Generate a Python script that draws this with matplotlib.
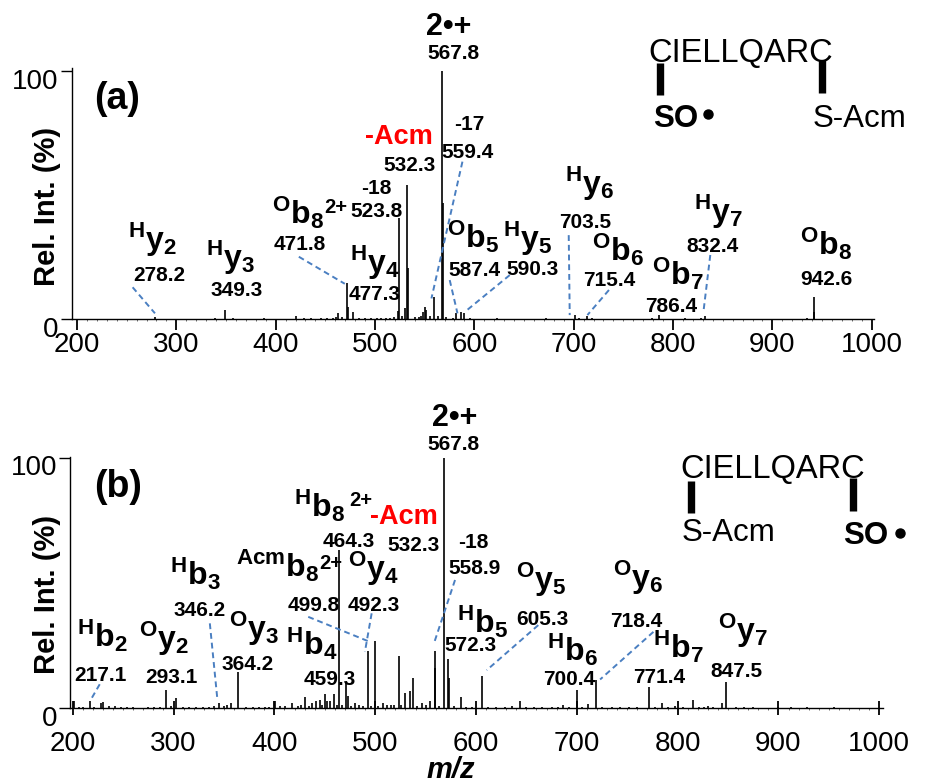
import matplotlib
matplotlib.use("Agg")
import matplotlib.pyplot as plt
from matplotlib.lines import Line2D
from matplotlib.transforms import ScaledTranslation

plt.rcParams['font.family'] = ['Liberation Sans', 'DejaVu Sans']
plt.rcParams['mathtext.fontset'] = 'custom'
plt.rcParams['mathtext.rm'] = 'Liberation Sans'
plt.rcParams['mathtext.bf'] = 'Liberation Sans:bold'
plt.rcParams['mathtext.it'] = 'Liberation Sans:italic'

# ------------------------------------------------------------------ data
# panel (a): peak m/z and relative intensity (%)
mz_a = [567.8, 568.3, 532.3, 532.8, 523.8, 523.3, 530.0, 559.0, 550.0, 551.8,
        548.5, 471.4, 473.0, 477.4, 462.9, 941.8, 942.4, 348.9, 278.5, 582.0,
        587.0, 589.3, 701.0, 713.0, 785.8, 831.8,
        205, 212, 221, 233, 246, 258, 266, 285, 296, 309, 318, 327, 338.8, 357,
        366, 375, 388, 398, 407, 420, 429, 436, 446, 452, 458, 461, 467, 484,
        490, 496, 502, 506.5, 511, 515, 519, 527, 540, 544, 546, 555, 563, 571,
        578, 596, 604, 614, 623, 632, 641, 652, 663, 672, 683, 692, 705, 718,
        724, 736, 748, 760, 771, 779, 793, 804, 812, 820, 828, 845, 857, 868,
        880, 893, 905, 916, 925, 935, 950, 962, 975, 988]
int_a = [100, 46.7, 54.1, 20.6, 40.8, 3.2, 4.5, 9.0, 4.8, 3.8,
         2.8, 14.7, 5.1, 3.1, 2.6, 9.1, 2.8, 3.8, 1.0, 2.6,
         3.0, 2.6, 1.6, 1.4, 1.8, 1.4,
         0.3, 0.2, 0.3, 0.2, 0.3, 0.2, 0.3, 0.3, 0.2, 0.3, 0.2, 0.3, 0.6, 0.4,
         0.3, 0.2, 0.4, 0.3, 0.3, 1.2, 0.4, 0.5, 0.7, 0.6, 0.5, 0.8, 0.8, 0.6,
         0.5, 0.4, 0.6, 0.7, 0.5, 0.5, 0.9, 1.2, 0.8, 1.0, 1.2, 1.5, 1.2, 0.8,
         0.7, 0.4, 0.3, 0.3, 0.4, 0.3, 0.3, 0.3, 0.3, 0.4, 0.3, 0.3, 0.4, 0.6,
         0.3, 0.3, 0.3, 0.3, 0.3, 0.4, 0.3, 0.3, 0.4, 0.3, 0.5, 0.3, 0.3, 0.3,
         0.3, 0.3, 0.3, 0.3, 0.3, 0.4, 0.3, 0.2, 0.3, 0.2]

# panel (b)
mz_b = [201.0, 216.9, 227.8, 230.0, 242.0, 293.0, 302.2, 345.2, 356.8, 364.1,
        400.5, 417.4, 430.5, 437.0, 441.0, 445.0, 450.0, 452.0, 455.0, 459.0,
        464.3, 470.7, 472.7, 480.0, 492.5, 499.8, 507.4, 512.0, 523.3, 529.5,
        535.0, 537.8, 546.7, 554.3, 559.0, 559.5, 567.8, 572.3, 572.8, 584.8,
        605.6, 643.7, 686.0, 700.5, 711.0, 718.7, 771.9, 784.3, 797.5, 815.0,
        830.0, 843.9, 848.1, 928.0,
        206, 210, 221, 236, 248, 254, 260, 268, 275, 281, 287, 297, 309, 315,
        322, 329, 335, 340, 350, 353, 372, 379, 385, 391, 395, 406, 411, 423,
        426, 434, 447, 462, 467, 476, 484, 488, 496, 503, 516, 519, 526, 541,
        550, 563, 578, 590, 596, 612, 620, 629, 636, 650, 658, 665, 675, 681,
        692, 705, 725, 735, 743, 752, 760, 778, 790, 805, 821, 826, 835, 858,
        866, 875, 888, 900, 912, 920, 940, 955, 968, 982, 995]
int_b = [3.0, 3.0, 2.0, 2.5, 1.0, 7.2, 4.3, 2.0, 2.0, 14.5,
         2.8, 2.0, 4.5, 2.0, 3.0, 3.5, 5.6, 3.0, 3.0, 5.6,
         63, 10.5, 5.0, 2.0, 23, 26.8, 2.0, 1.5, 21, 6.0,
         7.0, 12, 2.0, 3.0, 22.8, 16, 100, 19.6, 12, 4.4,
         12.8, 3.0, 1.2, 7.2, 1.6, 11.2, 8.5, 2.0, 1.0, 3.2,
         0.8, 2.1, 10.5, 0.5,
         0.6, 0.4, 0.5, 0.8, 0.4, 0.5, 0.4, 0.3, 0.5, 0.4, 0.6, 0.8, 0.5, 0.6,
         0.5, 0.7, 0.5, 0.9, 0.8, 1.2, 0.6, 0.5, 0.7, 0.5, 0.6, 0.9, 1.0, 0.8,
         1.2, 1.0, 1.5, 1.4, 1.2, 1.0, 1.3, 1.1, 0.9, 1.0, 1.2, 1.5, 1.3, 1.0,
         1.2, 0.8, 0.9, 0.7, 0.6, 0.6, 0.5, 0.7, 0.8, 0.5, 0.6, 0.4, 0.5, 0.6,
         0.5, 0.6, 0.5, 0.4, 0.7, 0.4, 0.5, 0.6, 0.5, 0.4, 0.6, 0.5, 0.4, 0.5,
         0.4, 0.5, 0.3, 0.4, 0.4, 0.3, 0.3, 0.4, 0.3, 0.3, 0.3]

x_ticks = [200, 300, 400, 500, 600, 700, 800, 900, 1000]
x_tick_labels = ["200", "300", "400", "500", "600", "700", "800", "900", "1000"]
y_ticks = [0, 100]
y_tick_labels = ["0", "100"]

# fragment labels: (prefix, ion letter, index, charge), value
ions_a = [("H", "y", "2", ""), ("H", "y", "3", ""), ("O", "b", "8", "2+"),
          ("H", "y", "4", ""), ("O", "b", "5", ""), ("H", "y", "5", ""),
          ("H", "y", "6", ""), ("O", "b", "6", ""), ("O", "b", "7", ""),
          ("H", "y", "7", ""), ("O", "b", "8", "")]
ionvals_a = ["278.2", "349.3", "471.8", "477.3", "587.4", "590.3",
             "703.5", "715.4", "786.4", "832.4", "942.6"]
other_vals_a = ["567.8", "532.3", "559.4", "523.8"]
other_tags_a = ["2•+", "-Acm", "-17", "-18"]

ions_b = [("H", "b", "2", ""), ("O", "y", "2", ""), ("H", "b", "3", ""),
          ("O", "y", "3", ""), ("H", "b", "4", ""), ("Acm", "b", "8", "2+"),
          ("H", "b", "8", "2+"), ("O", "y", "4", ""), ("H", "b", "5", ""),
          ("O", "y", "5", ""), ("H", "b", "6", ""), ("O", "y", "6", ""),
          ("H", "b", "7", ""), ("O", "y", "7", "")]
ionvals_b = ["217.1", "293.1", "346.2", "364.2", "459.3", "499.8", "464.3",
             "492.3", "572.3", "605.3", "700.4", "718.4", "771.4", "847.5"]
other_vals_b = ["567.8", "532.3", "558.9"]
other_tags_b = ["2•+", "-Acm", "-18"]

# ------------------------------------------------------------------ layout (pixels)
W, H = 935, 783
fig = plt.figure(figsize=(W / 100, H / 100), dpi=100)

def fx(x, y):
    return x / W, 1 - y / H

# ion label anchors (left, baseline) and value anchors (center, middle)
ion_pos_a = [(128, 250), (206, 268), (272, 224), (350, 273), (447, 248), (503, 249),
             (565, 194), (592, 261), (652, 285), (694, 222), (800, 255)]
charge_pos_a = {2: (324, 213)}
val_pos_a = [(159, 274), (237, 289), (300, 242.5), (375, 292.5), (474, 269), (533, 267.5),
             (585, 221), (609, 279), (671, 304.7), (712.5, 245), (826, 278)]
oval_pos_a = [(453, 52), (409.5, 164), (467.5, 150.7), (376.5, 210)]
otag_pos_a = [(449, 24), (398.6, 134), (469, 123), (376, 187)]

ion_pos_b = [(77, 647), (139, 649), (170, 585), (229, 639), (286, 655), (236, 577),
             (294.5, 517), (348, 579), (457, 633), (516, 590), (547, 661), (613, 588),
             (653, 658), (718, 641)]
charge_pos_b = {5: (319, 569), 6: (349, 506)}
val_pos_b = [(100.8, 674), (171.7, 675.8), (199.7, 608.3), (247.8, 662.5), (329.7, 677.5),
             (313.8, 603.3), (349, 540), (374, 603.3), (470.8, 643.3), (542, 617.5),
             (568.8, 677.8), (635.8, 619.2), (659.2, 675.5), (736.2, 670)]
oval_pos_b = [(453.8, 442.5), (414, 544), (474.5, 566.7)]
otag_pos_b = [(455, 415), (404, 514), (473, 541)]

# leader lines in data coords
leaders_a = [((256, 12.9), (278.5, 2.4)), ((423.3, 25.2), (469.6, 14.3)),
             ((588, 63.5), (556.8, 8.4)), ((575.2, 15.8), (583, 2.4)),
             ((635.6, 17.8), (592.6, 3.7)), ((695, 33.9), (696, 1.7)),
             ((735.5, 11.8), (713.8, 1.7)), ((837.5, 25.9), (830.8, 3.7))]
leaders_b = [((226.8, 9.6), (218.6, 3.9)), ((336, 33.9), (343.3, 4.3)),
             ((433.6, 36.5), (494.8, 26.5)), ((496.5, 37.9), (489.8, 22.5)),
             ((579.2, 51.2), (558.3, 25.9)), ((661.8, 33.2), (610.6, 15.2)),
             ((776, 30.5), (723.1, 11.5))]

axes_px = [(72, 68.3, 874, 319.3), (70.3, 457, 883.3, 708.3)]
xlims = [(194.97, 1002.3), (197.6, 1004.0)]
ylims = [(0, 101.1), (0, 100.28)]
lead_color = '#4a7fc1'

def ion_tex(pre, let, idx):
    return r"${}^{\mathbf{%s}}\mathbf{%s}_{\mathbf{%s}}$" % (pre, let, idx)

panels = [(mz_a, int_a, ions_a, ionvals_a, ion_pos_a, charge_pos_a, val_pos_a, other_vals_a,
           oval_pos_a, other_tags_a, otag_pos_a, leaders_a, 'out'),
          (mz_b, int_b, ions_b, ionvals_b, ion_pos_b, charge_pos_b, val_pos_b, other_vals_b,
           oval_pos_b, other_tags_b, otag_pos_b, leaders_b, 'inout')]

for k, (mz, it, ions, ivals, ipos, cpos, vpos, ovals, opos, otags, tpos, leads, tdir) in enumerate(panels):
    l, t, r, b = axes_px[k]
    ax = fig.add_axes([l / W, 1 - b / H, (r - l) / W, (b - t) / H])
    ax.set_xlim(*xlims[k])
    ax.set_ylim(*ylims[k])
    ax.vlines(mz, ylims[k][0], it, color='black', lw=1.2)
    for (p1, p2) in leads:
        ax.plot([p1[0], p2[0]], [p1[1], p2[1]], color=lead_color, lw=1.4,
                ls=(0, (3, 2)), clip_on=False)
    for side in ['top', 'right']:
        ax.spines[side].set_visible(False)
    for side in ['left', 'bottom']:
        ax.spines[side].set_linewidth(1.0)
    ax.set_xticks(x_ticks)
    ax.set_xticklabels(x_tick_labels, fontsize=20)
    ax.set_yticks(y_ticks)
    ax.set_yticklabels(y_tick_labels, fontsize=20)
    ax.set_xticks(range(200, 1001, 10), minor=True)
    ax.tick_params(axis='x', which='major', direction=tdir,
                   length=8 if tdir == 'out' else 10, width=1.3,
                   pad=1.5 if tdir == 'out' else 11)
    ax.tick_params(axis='x', which='minor', direction='out', length=1.2, width=0.6,
                   color='#555555')
    ax.tick_params(axis='y', which='major', direction='out', length=8, width=1.0, pad=1.5)
    for lab in ax.get_yticklabels():
        lab.set_transform(lab.get_transform() + ScaledTranslation(0, -7.5 / 100, fig.dpi_scale_trans))

    # labels
    for i, ((pre, let, idx, ch), (x, y)) in enumerate(zip(ions, ipos)):
        fig.text(*fx(x, y), ion_tex(pre, let, idx), fontsize=23, ha='left', va='baseline')
        if ch:
            fig.text(*fx(*cpos[i]), ch, fontsize=14.5, fontweight='bold', ha='left', va='baseline')
    for s, (x, y) in zip(ivals, vpos):
        fig.text(*fx(x, y + 7.4), s, fontsize=15, fontweight='bold', ha='center', va='baseline')
    for s, (x, y) in zip(ovals, opos):
        fig.text(*fx(x, y + 7.4), s, fontsize=15, fontweight='bold', ha='center', va='baseline')
    for s, (x, y) in zip(otags, tpos):
        if s == "2•+":
            fig.text(*fx(x, y + 11), s, fontsize=22, fontweight='bold', ha='center', va='baseline')
        elif s == "-Acm":
            fig.text(*fx(x, y + 9.5), s, fontsize=19.5, fontweight='bold', color='#ff0000',
                     ha='center', va='baseline')
        else:
            fig.text(*fx(x, y + 7.4), s, fontsize=15, fontweight='bold', ha='center', va='baseline')

# panel letters and axis titles
fig.text(*fx(94, 99), "(a)", fontsize=27, fontweight='bold', ha='left', va='center')
fig.text(*fx(94, 487), "(b)", fontsize=27, fontweight='bold', ha='left', va='center')
fig.text(*fx(47, 206), "Rel. Int. (%)", fontsize=21, fontweight='bold', rotation=90,
         ha='center', va='center')
fig.text(*fx(47, 594), "Rel. Int. (%)", fontsize=21, fontweight='bold', rotation=90,
         ha='center', va='center')
fig.text(*fx(451, 769.5), "m/z", fontsize=21, fontweight='bold', style='italic',
         ha='center', va='center')

# peptide structure schematics
def structure(seq_xy, bar1, bar2, lab1, lab1_xy, lab1_bold, lab2, lab2_xy, lab2_bold, dot_xy):
    fig.text(*fx(*seq_xy), "CIELLQARC", fontsize=23.5, ha='left', va='baseline')
    for (x, y0, y1) in (bar1, bar2):
        fig.add_artist(Line2D([x / W, x / W], [1 - y0 / H, 1 - y1 / H], color='black',
                              lw=5.3, solid_capstyle='butt', transform=fig.transFigure))
    fig.text(*fx(*lab1_xy), lab1, fontsize=22.5,
             fontweight='bold' if lab1_bold else 'normal', ha='left', va='baseline')
    fig.text(*fx(*lab2_xy), lab2, fontsize=22.5,
             fontweight='bold' if lab2_bold else 'normal', ha='left', va='baseline')
    fig.add_artist(Line2D([dot_xy[0] / W], [1 - dot_xy[1] / H], marker='o', markersize=6.5,
                          color='black', transform=fig.transFigure))

structure((648, 61.7), (660, 63, 95), (821.7, 60, 93.3), "SO", (652.7, 126.7), True,
          "S-Acm", (812.7, 126.7), False, (708.3, 114.3))
structure((680.7, 478.3), (691, 480.7, 512.7), (853.3, 478.3, 510.7), "S-Acm", (681.7, 541), False,
          "SO", (843.3, 544), True, (900, 532.7))

fig.savefig("out.png", dpi=100)
